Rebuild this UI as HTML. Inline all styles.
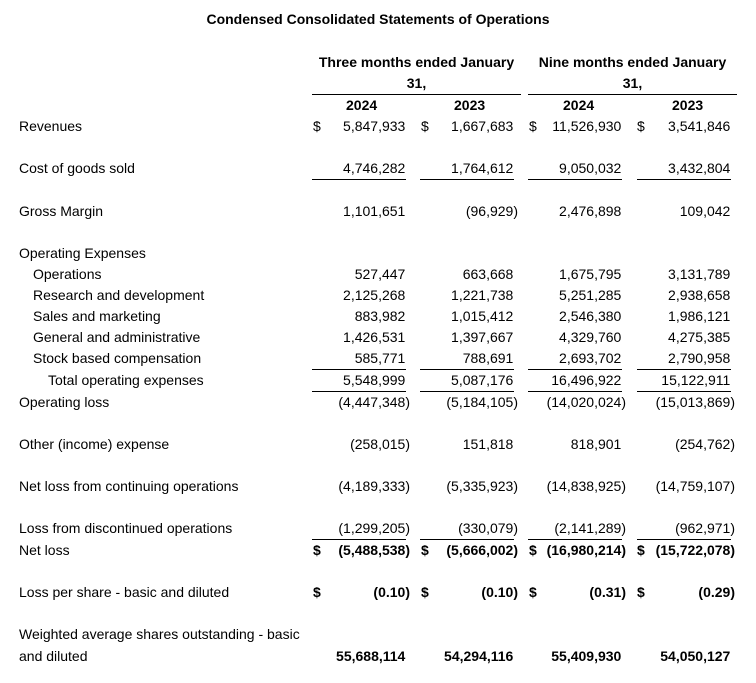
<!DOCTYPE html>
<html><head><meta charset="utf-8"><style>
body{margin:0;background:#fff;width:756px;height:683px;position:relative;overflow:hidden;font-family:"Liberation Sans",Arial,sans-serif;font-size:14px;color:#000}
.r{position:absolute;line-height:16px;white-space:nowrap}
.b{font-weight:bold}
.c1{right:346px}.c2{right:238px}.c3{right:130px}.c4{right:21px}
.d1{left:313px}.d2{left:421px}.d3{left:529px}.d4{left:637px}
.h{visibility:hidden}
.ln{position:absolute;height:1px;background:#000}
.l1{left:312px;width:94px}.l2{left:420px;width:94px}.l3{left:528px;width:94px}.l4{left:637px;width:94px}
</style></head><body>
<div class="r b" style="left:0;width:756px;text-align:center;top:11px">Condensed Consolidated Statements of Operations</div>
<div class="r b" style="left:312px;width:209px;text-align:center;top:54px">Three months ended January</div>
<div class="r b" style="left:312px;width:209px;text-align:center;top:75px">31,</div>
<div class="r b" style="left:528px;width:209px;text-align:center;top:54px">Nine months ended January</div>
<div class="r b" style="left:528px;width:209px;text-align:center;top:75px">31,</div>
<div class="ln" style="left:312px;width:209px;top:94px"></div>
<div class="ln" style="left:528px;width:209px;top:94px"></div>
<div class="r b" style="left:346px;top:97px">2024</div>
<div class="r b" style="left:454px;top:97px">2023</div>
<div class="r b" style="left:563px;top:97px">2024</div>
<div class="r b" style="left:672px;top:97px">2023</div>

<div class="r" style="left:19px;top:118px">Revenues</div>
<div class="r d1" style="top:118px">$</div><div class="r c1" style="top:118px">5,847,933<span class="h">)</span></div>
<div class="r d2" style="top:118px">$</div><div class="r c2" style="top:118px">1,667,683<span class="h">)</span></div>
<div class="r d3" style="top:118px">$</div><div class="r c3" style="top:118px">11,526,930<span class="h">)</span></div>
<div class="r d4" style="top:118px">$</div><div class="r c4" style="top:118px">3,541,846<span class="h">)</span></div>

<div class="r" style="left:19px;top:160px">Cost of goods sold</div>
<div class="r c1" style="top:160px">4,746,282<span class="h">)</span></div>
<div class="r c2" style="top:160px">1,764,612<span class="h">)</span></div>
<div class="r c3" style="top:160px">9,050,032<span class="h">)</span></div>
<div class="r c4" style="top:160px">3,432,804<span class="h">)</span></div>
<div class="ln l1" style="top:179px"></div><div class="ln l2" style="top:179px"></div><div class="ln l3" style="top:179px"></div><div class="ln l4" style="top:179px"></div>

<div class="r" style="left:19px;top:203px">Gross Margin</div>
<div class="r c1" style="top:203px">1,101,651<span class="h">)</span></div>
<div class="r c2" style="top:203px">(96,929)</div>
<div class="r c3" style="top:203px">2,476,898<span class="h">)</span></div>
<div class="r c4" style="top:203px">109,042<span class="h">)</span></div>

<div class="r" style="left:19px;top:245px">Operating Expenses</div>

<div class="r" style="left:33px;top:266px">Operations</div>
<div class="r c1" style="top:266px">527,447<span class="h">)</span></div>
<div class="r c2" style="top:266px">663,668<span class="h">)</span></div>
<div class="r c3" style="top:266px">1,675,795<span class="h">)</span></div>
<div class="r c4" style="top:266px">3,131,789<span class="h">)</span></div>

<div class="r" style="left:33px;top:287px">Research and development</div>
<div class="r c1" style="top:287px">2,125,268<span class="h">)</span></div>
<div class="r c2" style="top:287px">1,221,738<span class="h">)</span></div>
<div class="r c3" style="top:287px">5,251,285<span class="h">)</span></div>
<div class="r c4" style="top:287px">2,938,658<span class="h">)</span></div>

<div class="r" style="left:33px;top:308px">Sales and marketing</div>
<div class="r c1" style="top:308px">883,982<span class="h">)</span></div>
<div class="r c2" style="top:308px">1,015,412<span class="h">)</span></div>
<div class="r c3" style="top:308px">2,546,380<span class="h">)</span></div>
<div class="r c4" style="top:308px">1,986,121<span class="h">)</span></div>

<div class="r" style="left:33px;top:329px">General and administrative</div>
<div class="r c1" style="top:329px">1,426,531<span class="h">)</span></div>
<div class="r c2" style="top:329px">1,397,667<span class="h">)</span></div>
<div class="r c3" style="top:329px">4,329,760<span class="h">)</span></div>
<div class="r c4" style="top:329px">4,275,385<span class="h">)</span></div>

<div class="r" style="left:33px;top:350px">Stock based compensation</div>
<div class="r c1" style="top:350px">585,771<span class="h">)</span></div>
<div class="r c2" style="top:350px">788,691<span class="h">)</span></div>
<div class="r c3" style="top:350px">2,693,702<span class="h">)</span></div>
<div class="r c4" style="top:350px">2,790,958<span class="h">)</span></div>
<div class="ln l1" style="top:369px"></div><div class="ln l2" style="top:369px"></div><div class="ln l3" style="top:369px"></div><div class="ln l4" style="top:369px"></div>

<div class="r" style="left:48px;top:372px">Total operating expenses</div>
<div class="r c1" style="top:372px">5,548,999<span class="h">)</span></div>
<div class="r c2" style="top:372px">5,087,176<span class="h">)</span></div>
<div class="r c3" style="top:372px">16,496,922<span class="h">)</span></div>
<div class="r c4" style="top:372px">15,122,911<span class="h">)</span></div>
<div class="ln l1" style="top:391px"></div><div class="ln l2" style="top:391px"></div><div class="ln l3" style="top:391px"></div><div class="ln l4" style="top:391px"></div>

<div class="r" style="left:19px;top:394px">Operating loss</div>
<div class="r c1" style="top:394px">(4,447,348)</div>
<div class="r c2" style="top:394px">(5,184,105)</div>
<div class="r c3" style="top:394px">(14,020,024)</div>
<div class="r c4" style="top:394px">(15,013,869)</div>

<div class="r" style="left:19px;top:436px">Other (income) expense</div>
<div class="r c1" style="top:436px">(258,015)</div>
<div class="r c2" style="top:436px">151,818<span class="h">)</span></div>
<div class="r c3" style="top:436px">818,901<span class="h">)</span></div>
<div class="r c4" style="top:436px">(254,762)</div>

<div class="r" style="left:19px;top:478px">Net loss from continuing operations</div>
<div class="r c1" style="top:478px">(4,189,333)</div>
<div class="r c2" style="top:478px">(5,335,923)</div>
<div class="r c3" style="top:478px">(14,838,925)</div>
<div class="r c4" style="top:478px">(14,759,107)</div>

<div class="r" style="left:19px;top:520px">Loss from discontinued operations</div>
<div class="r c1" style="top:520px">(1,299,205)</div>
<div class="r c2" style="top:520px">(330,079)</div>
<div class="r c3" style="top:520px">(2,141,289)</div>
<div class="r c4" style="top:520px">(962,971)</div>
<div class="ln l1" style="top:539px"></div><div class="ln l2" style="top:539px"></div><div class="ln l3" style="top:539px"></div><div class="ln l4" style="top:539px"></div>

<div class="r" style="left:19px;top:542px">Net loss</div>
<div class="r b d1" style="top:542px">$</div><div class="r b c1" style="top:542px">(5,488,538)</div>
<div class="r b d2" style="top:542px">$</div><div class="r b c2" style="top:542px">(5,666,002)</div>
<div class="r b d3" style="top:542px">$</div><div class="r b c3" style="top:542px">(16,980,214)</div>
<div class="r b d4" style="top:542px">$</div><div class="r b c4" style="top:542px">(15,722,078)</div>

<div class="r" style="left:19px;top:584px">Loss per share - basic and diluted</div>
<div class="r b d1" style="top:584px">$</div><div class="r b c1" style="top:584px">(0.10)</div>
<div class="r b d2" style="top:584px">$</div><div class="r b c2" style="top:584px">(0.10)</div>
<div class="r b d3" style="top:584px">$</div><div class="r b c3" style="top:584px">(0.31)</div>
<div class="r b d4" style="top:584px">$</div><div class="r b c4" style="top:584px">(0.29)</div>

<div class="r" style="left:19px;top:626px">Weighted average shares outstanding - basic</div>
<div class="r" style="left:19px;top:648px">and diluted</div>
<div class="r b c1" style="top:648px">55,688,114<span class="h">)</span></div>
<div class="r b c2" style="top:648px">54,294,116<span class="h">)</span></div>
<div class="r b c3" style="top:648px">55,409,930<span class="h">)</span></div>
<div class="r b c4" style="top:648px">54,050,127<span class="h">)</span></div>
</body></html>
